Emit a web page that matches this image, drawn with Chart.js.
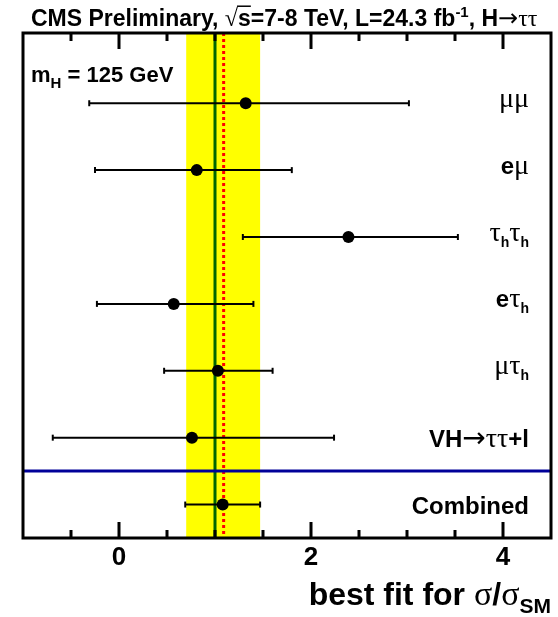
<!DOCTYPE html>
<html>
<head>
<meta charset="utf-8">
<script src="https://cdn.jsdelivr.net/npm/chart.js@4.4.0/dist/chart.umd.min.js"></script>
<style>
    html, body { margin: 0; padding: 0; background: #fff; }
    #wrap { width: 558px; height: 617px; }
</style>
</head>
<body>
<div id="wrap"><canvas id="chart" width="558" height="617"></canvas></div>
<script>
// Channels from top to bottom, in ROOT-style latex markup
const channels = ['#mu#mu', 'e#mu', '#tau_{h}#tau_{h}', 'e#tau_{h}', '#mu#tau_{h}', 'VH#rightarrow#tau#tau+l', 'Combined'];
const bestFit = [1.32, 0.81, 2.39, 0.57, 1.03, 0.76, 1.08];
const errLow = [-0.31, -0.25, 1.29, -0.23, 0.47, -0.69, 0.69];
const errHigh = [3.02, 1.80, 3.53, 1.40, 1.60, 2.24, 1.47];

// Combined result band, combined best fit and SM expectation
const combinedBand = [0.70, 1.47];
const combinedFit = 1.09;
const smExpectation = 1.0;
const separatorRow = 5.5;

// Axis
const xRange = [-1, 4.5];
const xMajorTicks = [0, 2, 4];
const xMinorTicks = [-0.5, 0.5, 1, 1.5, 2.5, 3, 3.5];

const titleText = 'CMS Preliminary, #sqrt{s}=7-8 TeV, L=24.3 fb^{-1}, H#rightarrow#tau#tau';
const massLabel = 'm_{H} = 125 GeV';
const xAxisTitle = 'best fit for #sigma/#sigma_{SM}';

const GREEK = { mu: 'μ', tau: 'τ', sigma: 'σ', rightarrow: '→' };

// Turn a small latex string into text segments
function parseLatex(str) {
    const out = [];
    let i = 0;
    while (i < str.length) {
        const c = str[i];
        if (c === '#') {
            const m = /^#([a-z]+)/.exec(str.slice(i));
            i += m[0].length;
            if (m[1] === 'sqrt') {
                const end = str.indexOf('}', i);
                out.push({ text: '√', greek: true, lvl: 0 });
                out.push({ text: str.slice(i + 1, end), greek: false, lvl: 0, over: true });
                i = end + 1;
            } else {
                out.push({ text: GREEK[m[1]], greek: true, arrow: m[1] === 'rightarrow', lvl: 0 });
            }
        } else if (c === '_' || c === '^') {
            const end = str.indexOf('}', i);
            parseLatex(str.slice(i + 2, end)).forEach(s => {
                s.lvl = c === '_' ? -1 : 1;
                out.push(s);
            });
            i = end + 1;
        } else {
            let j = i;
            while (j < str.length && !'#_^'.includes(str[j])) j++;
            out.push({ text: str.slice(i, j), greek: false, lvl: 0 });
            i = j;
        }
    }
    return out;
}

function segFont(s, o) {
    const size = s.lvl === 0 ? (s.greek ? o.greekSize : o.size) : o.subSize;
    if (s.arrow) return `${size}px "DejaVu Sans", sans-serif`;
    return s.greek
        ? `${size}px "Liberation Serif", "DejaVu Serif", serif`
        : `bold ${size}px "Liberation Sans", Arial, sans-serif`;
}

// Draw latex text; o.valign 'middle' centres the ink box on y
function drawLatex(ctx, str, x, y, o) {
    const segs = parseLatex(str);
    let total = 0, top = 0, bottom = 0;
    segs.forEach(s => {
        ctx.font = segFont(s, o);
        const m = ctx.measureText(s.text);
        s.w = m.width;
        s.dy = s.lvl < 0 ? o.subDy : s.lvl > 0 ? -o.supDy : 0;
        top = Math.max(top, m.actualBoundingBoxAscent - s.dy);
        bottom = Math.max(bottom, m.actualBoundingBoxDescent + s.dy);
        total += s.w;
    });
    let cx = o.align === 'right' ? x - total : o.align === 'center' ? x - total / 2 : x;
    const base = o.valign === 'middle' ? y + (top - bottom) / 2 : y;
    ctx.textAlign = 'left';
    ctx.textBaseline = 'alphabetic';
    ctx.fillStyle = '#000';
    segs.forEach(s => {
        ctx.font = segFont(s, o);
        ctx.fillText(s.text, cx, base + s.dy);
        if (s.over) {
            ctx.lineWidth = 1.5;
            ctx.strokeStyle = '#000';
            ctx.beginPath();
            ctx.moveTo(cx - 1, base - o.size * 0.86);
            ctx.lineTo(cx + s.w, base - o.size * 0.86);
            ctx.stroke();
        }
        cx += s.w;
    });
}

const bandPlugin = {
    id: 'bands',
    beforeDatasetsDraw(chart) {
        const { ctx, chartArea: a, scales: { x, y } } = chart;
        ctx.save();
        // combined +-1 sigma band
        const x0 = x.getPixelForValue(combinedBand[0]);
        const x1 = x.getPixelForValue(combinedBand[1]);
        ctx.fillStyle = '#ffff00';
        ctx.fillRect(x0, a.top, x1 - x0, a.bottom - a.top);

        // SM expectation
        ctx.strokeStyle = '#006600';
        ctx.lineWidth = 3;
        ctx.beginPath();
        ctx.moveTo(x.getPixelForValue(smExpectation), a.top);
        ctx.lineTo(x.getPixelForValue(smExpectation), a.bottom);
        ctx.stroke();

        // combined best fit
        ctx.strokeStyle = '#ff0000';
        ctx.setLineDash([3, 3]);
        ctx.beginPath();
        ctx.moveTo(x.getPixelForValue(combinedFit), a.top);
        ctx.lineTo(x.getPixelForValue(combinedFit), a.bottom);
        ctx.stroke();
        ctx.setLineDash([]);

        // separator above the combined row
        ctx.strokeStyle = '#000099';
        ctx.beginPath();
        ctx.moveTo(a.left, y.getPixelForValue(separatorRow));
        ctx.lineTo(a.right, y.getPixelForValue(separatorRow));
        ctx.stroke();
        ctx.restore();
    }
};

const framePlugin = {
    id: 'frame',
    afterDatasetsDraw(chart) {
        const { ctx, chartArea: a, scales: { x, y } } = chart;
        ctx.save();
        ctx.strokeStyle = '#000';
        ctx.lineWidth = 3;

        // ticks on top and bottom, pointing in
        const tick = (v, len) => {
            const px = x.getPixelForValue(v);
            ctx.beginPath();
            ctx.moveTo(px, a.bottom);
            ctx.lineTo(px, a.bottom - len);
            ctx.moveTo(px, a.top);
            ctx.lineTo(px, a.top + len);
            ctx.stroke();
        };
        xMajorTicks.forEach(v => tick(v, 16));
        xMinorTicks.forEach(v => tick(v, 8));

        ctx.strokeRect(a.left, a.top, a.right - a.left, a.bottom - a.top);

        // tick labels
        ctx.fillStyle = '#000';
        ctx.font = 'bold 26px "Liberation Sans", Arial, sans-serif';
        ctx.textAlign = 'center';
        ctx.textBaseline = 'alphabetic';
        xMajorTicks.forEach(v => ctx.fillText(String(v), x.getPixelForValue(v), a.bottom + 27));

        // channel names on the right
        channels.forEach((c, i) => {
            drawLatex(ctx, c, a.right - 22, y.getPixelForValue(i), {
                size: 24, greekSize: 28, subSize: 14, subDy: 6, supDy: 9,
                align: 'right', valign: 'middle'
            });
        });

        drawLatex(ctx, massLabel, a.left + 8, a.top + 49, {
            size: 22, greekSize: 24, subSize: 15, subDy: 6, supDy: 8, align: 'left'
        });
        drawLatex(ctx, titleText, a.left + 8, a.top - 7, {
            size: 23, greekSize: 24, subSize: 15, subDy: 6, supDy: 9, align: 'left'
        });
        drawLatex(ctx, xAxisTitle, a.right, a.bottom + 67, {
            size: 32, greekSize: 34, subSize: 21, subDy: 8, supDy: 10, align: 'right'
        });
        ctx.restore();
    }
};

const datasets = [{
    label: 'best fit',
    data: bestFit.map((v, i) => ({ x: v, y: i })),
    showLine: false,
    pointRadius: 6,
    pointHoverRadius: 6,
    pointBackgroundColor: '#000',
    pointBorderWidth: 0,
    order: 0
}];
channels.forEach((c, i) => {
    datasets.push({
        label: c,
        data: [{ x: errLow[i], y: i }, { x: errHigh[i], y: i }],
        showLine: true,
        borderColor: '#000',
        borderWidth: 2,
        pointStyle: 'line',
        rotation: 90,
        pointRadius: 3,
        pointHoverRadius: 3,
        pointBorderColor: '#000',
        pointBorderWidth: 2,
        order: 1
    });
});

new Chart(document.getElementById('chart'), {
    type: 'scatter',
    data: { datasets: datasets },
    options: {
        responsive: false,
        devicePixelRatio: 1,
        animation: false,
        layout: { padding: { left: 23, top: 33, right: 7, bottom: 79 } },
        plugins: {
            legend: { display: false },
            tooltip: { enabled: false }
        },
        scales: {
            x: { type: 'linear', min: xRange[0], max: xRange[1], display: false },
            y: { type: 'linear', min: -1.05, max: 6.5, reverse: true, display: false }
        }
    },
    plugins: [bandPlugin, framePlugin]
});
</script>
</body>
</html>
